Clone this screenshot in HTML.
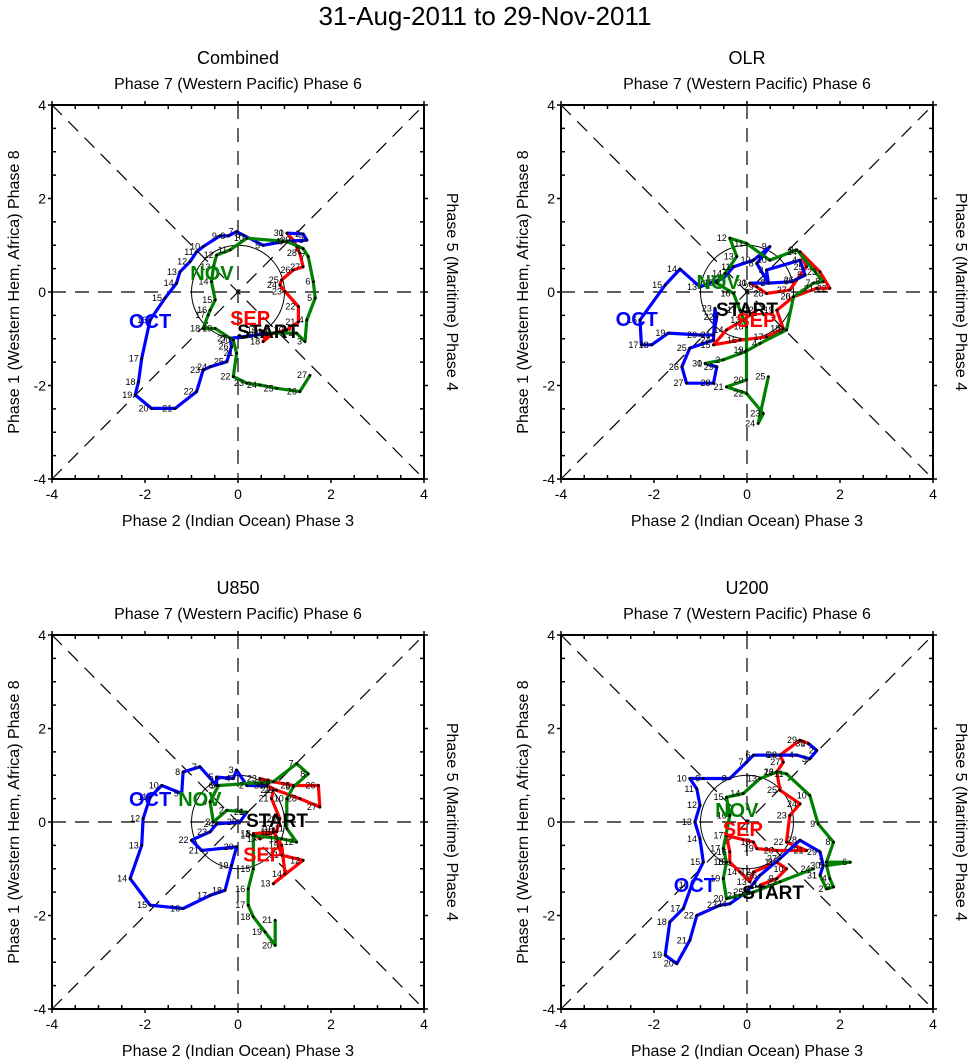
<!DOCTYPE html>
<html><head><meta charset="utf-8">
<style>
html,body{margin:0;padding:0;background:#fff;}
svg{display:block;font-family:"Liberation Sans",Arial,sans-serif;}
</style></head>
<body>
<svg id="chart" width="971" height="1059" viewBox="0 0 971 1059" xmlns="http://www.w3.org/2000/svg">
<text x="485" y="25" font-size="26" text-anchor="middle">31-Aug-2011 to 29-Nov-2011</text>
</svg>
<script>
// ---- data (RMM1, RMM2) per panel ----
const panelTitles = ["Combined","OLR","U850","U200"];
const tickValues = [-4,-2,0,2,4];
const tickLabels = ["-4","-2","0","2","4"];

const sepX1=[0.47,0.62,0.54,0.76,1.05,1.30,1.30,1.01,0.90,0.94,1.19,1.40,1.33,1.19,1.05];
const sepY1=[-0.81,-0.92,-1.06,-0.88,-0.81,-0.64,-0.31,0.01,0.15,0.26,0.47,0.54,0.83,1.11,1.26];
const octX1=[1.05,1.40,1.48,0.97,0.54,0.11,-0.03,-0.21,-0.39,-0.75,-0.89,-1.03,-1.25,-1.32,-1.57,-1.89,-2.07,-2.14,-2.21,-1.86,-1.35,-0.89,-0.75,-0.60,-0.24,-0.14,-0.17,0.40,0.62];
const octY1=[1.26,1.24,1.11,1.08,1.00,1.22,1.29,1.20,1.20,0.97,0.86,0.65,0.43,0.19,-0.13,-0.60,-1.42,-1.92,-2.20,-2.49,-2.49,-2.13,-1.67,-1.60,-1.49,-1.17,-0.99,-0.92,-0.88];
const novX1=[0.62,1.26,1.44,1.48,1.66,1.62,1.51,1.40,1.05,0.19,-0.17,-0.46,-0.53,-0.57,-0.49,-0.60,-0.64,-0.75,-0.49,-0.10,-0.03,-0.10,0.19,0.47,0.83,1.33,1.55];
const novY1=[-0.88,-0.88,-1.06,-0.60,-0.13,0.22,0.76,0.93,1.08,1.15,0.90,0.79,0.54,0.22,-0.17,-0.39,-0.49,-0.78,-0.78,-1.03,-1.31,-1.81,-1.95,-1.99,-2.06,-2.13,-1.78];

const sepX2=[0.21,-0.08,-0.44,-0.72,-0.15,0.42,0.78,0.64,1.00,1.50,1.78,1.57,1.14,1.28,1.07,0.92,0.42,0.21,0.06];
const sepY2=[-0.39,-0.60,-0.81,-1.13,-1.03,-0.96,-0.78,-0.39,-0.10,0.08,0.08,0.43,0.86,0.54,0.26,0.04,-0.03,0.11,0.19];
const octX2=[0.06,0.46,0.42,1.14,1.25,0.96,0.46,0.21,0.49,0.14,-0.29,-0.51,-1.01,-1.44,-1.76,-2.30,-2.27,-2.05,-1.69,-1.01,-0.72,-0.65,-0.69,-0.72,-1.23,-1.40,-1.30,-0.72,-0.65,-0.90];
const octY2=[0.19,0.19,0.47,0.68,0.36,0.22,0.19,0.61,0.97,0.68,0.54,0.29,0.11,0.49,0.15,-0.60,-1.13,-1.13,-0.88,-0.92,-0.92,-0.53,-0.35,-1.03,-1.20,-1.60,-1.95,-1.95,-1.60,-1.53];
const novX2=[-0.90,-0.51,-0.04,0.28,0.85,1.00,1.43,1.64,1.07,0.49,-0.01,-0.37,-0.22,-0.47,-0.65,-0.29,-0.15,-0.01,-0.01,-0.01,-0.44,-0.01,0.35,0.24,0.46];
const novY2=[-1.53,-1.45,-1.28,-1.10,-0.81,-0.10,0.19,0.22,0.90,0.68,1.04,1.15,0.76,0.40,0.19,-0.03,-0.39,-0.74,-1.24,-1.88,-2.03,-2.17,-2.60,-2.81,-1.81];

const sepX3=[0.76,0.94,1.40,0.76,1.01,0.94,0.76,0.47,0.33,0.83,0.90,0.72,0.76,0.47,0.76,1.19,1.73,1.76,1.33,0.83,0.62];
const sepY3=[-0.14,-0.71,-0.82,-1.32,-1.11,-0.50,-0.21,-0.36,-0.25,-0.21,0.07,0.50,0.68,0.93,0.86,0.78,0.78,0.32,0.50,0.68,0.78];
const octX3=[0.62,0.19,-0.03,-0.10,-0.46,-0.46,-0.82,-1.18,-1.21,-1.64,-1.89,-2.04,-2.07,-2.32,-1.89,-1.18,-0.60,-0.28,-0.14,-0.03,-0.78,-1.00,-0.60,-0.46,0.04,0.19];
const octY3=[0.78,0.78,1.11,0.93,0.96,0.78,1.18,1.07,0.61,0.78,0.53,0.07,-0.50,-1.21,-1.78,-1.85,-1.57,-1.46,-0.93,-0.53,-0.61,-0.39,-0.21,-0.04,0,0.21];
const novX3=[0.19,-0.24,-0.53,-0.60,-0.42,0.76,1.26,1.51,1.19,1.05,1.05,1.26,0.94,0.33,0.33,0.22,0.22,0.33,0.58,0.80,0.80];
const novY3=[0.21,0.25,0,0.43,0.78,0.86,1.25,1.03,0.75,0.50,-0.14,-0.43,-0.36,-0.29,-1.00,-1.43,-1.78,-2.03,-2.35,-2.64,-2.10];

const sepX4=[0.28,0.64,0.85,0.64,0.14,0.06,-0.15,-0.37,-0.37,-0.44,0.14,0.21,0.64,1.28,0.85,0.92,1.14,0.71,0.64,0.78,0.71,1.14,1.32];
const sepY4=[-1.35,-1.21,-1.00,-0.86,-1.07,-1.28,-1.07,-0.86,-0.64,-0.29,-0.43,-0.57,-0.61,-0.61,-0.43,0.14,0.39,0.68,1.07,1.28,1.43,1.75,1.68];
const octX4=[1.32,1.50,1.35,1.07,0.57,0.14,-0.01,-0.37,-0.94,-1.23,-1.08,-1.01,-1.12,-1.01,-0.94,-1.19,-1.37,-1.66,-1.76,-1.51,-1.23,-1.08,-0.58,-0.37,-0.01,0.28,0.71,1.14,1.57,1.64,1.57];
const octY4=[1.68,1.53,1.35,1.43,1.43,1.43,1.28,0.93,0.93,0.93,0.71,0.36,0,-0.36,-0.86,-1.35,-1.85,-2.14,-2.85,-3.03,-2.53,-2.00,-1.78,-1.75,-1.50,-1.14,-0.78,-0.39,-0.64,-0.93,-1.14];
const novX4=[1.57,1.71,1.86,1.78,1.71,2.22,1.71,1.86,1.53,1.35,0.85,0.64,0.28,-0.08,-0.44,-0.37,-0.51,-0.44,-0.51,-0.44,-0.15,0.14,0.71,1.43];
const novY4=[-1.14,-1.43,-1.39,-1.21,-0.93,-0.86,-0.86,-0.43,-0.04,0.57,1.03,1.07,0.93,0.61,0.53,0.14,-0.57,-0.86,-1.21,-1.64,-1.57,-1.50,-1.28,-1.00];

const monthNames=["START","SEP","OCT","NOV"];
const labelX1=[0.65,0.26,-1.89,-0.56], labelY1=[-0.83,-0.56,-0.62,0.41];
const labelX2=[0,0.2,-2.37,-0.62], labelY2=[-0.36,-0.6,-0.58,0.21];
const labelX3=[0.84,0.54,-1.89,-0.82], labelY3=[0.04,-0.70,0.49,0.49];
const labelX4=[0.56,-0.09,-1.12,-0.22], labelY4=[-1.50,-0.15,-1.35,0.26];

const NS="http://www.w3.org/2000/svg";
const svg=document.getElementById('chart');
function mk(tag,attrs,parent){const e=document.createElementNS(NS,tag);for(const k in attrs)e.setAttribute(k,attrs[k]);(parent||svg).appendChild(e);return e;}

const panels=[
 {ox:52,oy:105,sx:[sepX1,octX1,novX1],sy:[sepY1,octY1,novY1],lx:labelX1,ly:labelY1},
 {ox:561,oy:105,sx:[sepX2,octX2,novX2],sy:[sepY2,octY2,novY2],lx:labelX2,ly:labelY2},
 {ox:52,oy:635,sx:[sepX3,octX3,novX3],sy:[sepY3,octY3,novY3],lx:labelX3,ly:labelY3},
 {ox:561,oy:635,sx:[sepX4,octX4,novX4],sy:[sepY4,octY4,novY4],lx:labelX4,ly:labelY4}
];
const W=372,H=374;
const seriesColors=["#ff0000","#0000ff","#008000"];
const seriesNames=["sep","oct","nov"];
const labelColors=["#000","#ff0000","#0000ff","#008000"];

panels.forEach((p,pi)=>{
  const g=mk('g',{});
  
  
  const X=v=>p.ox+(v+4)/8*W;
  const Y=v=>p.oy+(4-v)/8*H;
  const cx=X(0),cy=Y(0);
  let t=mk('text',{x:cx,y:p.oy-41,'font-size':18,'text-anchor':'middle'},g);t.textContent=panelTitles[pi];
  
  t=mk('text',{x:cx,y:p.oy-16,'font-size':16,'text-anchor':'middle'},g);t.textContent="Phase 7 (Western Pacific) Phase 6";
  
  t=mk('text',{x:cx,y:p.oy+H+47,'font-size':16,'text-anchor':'middle'},g);t.textContent="Phase 2 (Indian Ocean) Phase 3";
  
  t=mk('text',{x:0,y:0,'font-size':16,'text-anchor':'middle',transform:`translate(${p.ox-33},${cy}) rotate(-90)`},g);t.textContent="Phase 1 (Western Hem, Africa) Phase 8";
  
  t=mk('text',{x:0,y:0,'font-size':16,'text-anchor':'middle',transform:`translate(${p.ox+W+23},${cy}) rotate(90)`},g);t.textContent="Phase 5 (Maritime) Phase 4";
  
  const dash={stroke:'#000','stroke-width':1.2,'stroke-dasharray':'14,9',fill:'none'};
  let l=mk('line',Object.assign({x1:X(-4),y1:Y(-4),x2:X(4),y2:Y(4)},dash),g);
  l=mk('line',Object.assign({x1:X(-4),y1:Y(4),x2:X(4),y2:Y(-4)},dash),g);
  l=mk('line',Object.assign({x1:X(0),y1:Y(4),x2:X(0),y2:Y(-4)},dash),g);
  l=mk('line',Object.assign({x1:X(-4),y1:Y(0),x2:X(4),y2:Y(0)},dash),g);
  let c=mk('ellipse',{cx:cx,cy:cy,rx:X(1)-cx,ry:cy-Y(1),fill:'none',stroke:'#000','stroke-width':1},g);
  
  let r=mk('rect',{x:p.ox,y:p.oy,width:W,height:H,fill:'none',stroke:'#000','stroke-width':2},g);
  
  for(let v=-4;v<=4.001;v+=0.5){
    const major=Math.abs(v-Math.round(v/2)*2)<1e-6;
    const d=major?4:-4;
    mk('line',{x1:X(v),y1:p.oy+H,x2:X(v),y2:p.oy+H+d,stroke:'#000','stroke-width':1.5},g);
    mk('line',{x1:p.ox,y1:Y(v),x2:p.ox-d,y2:Y(v),stroke:'#000','stroke-width':1.5},g);
    mk('line',{x1:X(v),y1:p.oy,x2:X(v),y2:p.oy-d,stroke:'#000','stroke-width':1.5},g);
    mk('line',{x1:p.ox+W,y1:Y(v),x2:p.ox+W+d,y2:Y(v),stroke:'#000','stroke-width':1.5},g);
  }
  tickValues.forEach((v,i)=>{
    let tx=mk('text',{x:X(v),y:p.oy+H+20,'font-size':14,'text-anchor':'middle'},g);tx.textContent=tickLabels[i];
    
    let ty=mk('text',{x:p.ox-6,y:Y(v)+5,'font-size':14,'text-anchor':'end'},g);ty.textContent=tickLabels[i];
    
  });
  for(let s=0;s<3;s++){
    const xs=p.sx[s],ys=p.sy[s];
    const pts=xs.map((x,i)=>X(x).toFixed(1)+','+Y(ys[i]).toFixed(1)).join(' ');
    const pl=mk('polyline',{points:pts,fill:'none',stroke:seriesColors[s],'stroke-width':3.2,'stroke-linejoin':'round'},g);
    
    
  }
  for(let s=0;s<3;s++){
    const xs=p.sx[s],ys=p.sy[s];
    xs.forEach((x,i)=>{
      const d=mk('circle',{cx:X(x),cy:Y(ys[i]),r:1.4,fill:'#000'},g);
      
      
      const dl=mk('text',{x:X(x)-3,y:Y(ys[i])+3,'font-size':9,'text-anchor':'end',fill:'#000'},g);
      dl.textContent=String(s===0?(30-xs.length+1+i):(i+1));
      
      
    });
  }
  monthNames.forEach((m,i)=>{
    const tx=mk('text',{x:X(p.lx[i]),y:Y(p.ly[i])+7,'font-size':i==0?19:20,'font-weight':'bold','text-anchor':'middle',fill:labelColors[i]},g);
    tx.textContent=m;
    
    
  });
});
</script>
</body></html>
